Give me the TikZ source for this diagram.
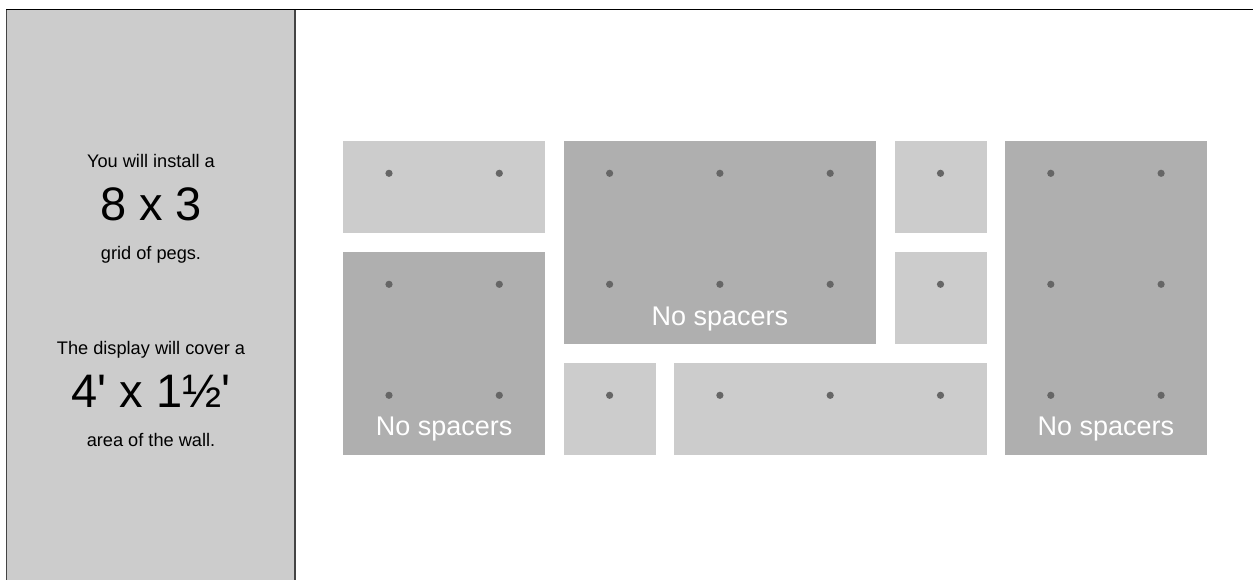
\documentclass[tikz,border=0pt]{standalone}
\usepackage{fontspec}
\newfontfamily\arialf{Liberation Sans}
\usetikzlibrary{calc}
\definecolor{lightt}{HTML}{CCCCCC}
\definecolor{darkt}{HTML}{AFAFAF}
\definecolor{pegc}{HTML}{666666}
\definecolor{panelb}{HTML}{444444}
\newcommand\ap{\char"0027\relax}
\newcommand\mytile[6]{%
  \node[#2, minimum width={(#5-#3)*1pt}, minimum height={(#6-#4)*1pt}] (#1) at ({(#3+#5)/2},{(#4+#6)/2}) {};}
\begin{document}
\begin{tikzpicture}[x=1pt,y=-1pt,
  lighttile/.style={rectangle, fill=lightt, draw=none, inner sep=0pt, outer sep=0pt},
  darktile/.style={rectangle, fill=darkt, draw=none, inner sep=0pt, outer sep=0pt},
  peg/.style={circle, fill=pegc, draw=none, minimum size=7.2pt, inner sep=0pt},
  nosp/.style={text=white, font=\arialf\fontsize{27}{30}\selectfont, anchor=base, inner sep=0pt},
  small/.style={text=black, font=\arialf\fontsize{18.2}{20}\selectfont, anchor=base, inner sep=0pt},
  big/.style={text=black, font=\arialf\fontsize{47}{50}\selectfont, anchor=base, inner sep=0pt}]
\useasboundingbox (0,0) rectangle (1253,580);
\fill[white] (0,0) rectangle (1253,580);
% left panel
\path[fill=lightt] (6.7,9.3) rectangle (295,585);
\draw[panelb, line width=1.3pt] (6.7,585) -- (6.7,9.3);
\draw[panelb, line width=1.3pt] (295,9.3) -- (295,585);
\draw[black, line width=1.3pt] (6.1,9.3) -- (1253,9.3);
% texts
\node[small] (l1) at (151,167.3) {You will install a};
\node[big] (l2) at (151,220.7) {8 x 3};
\node[small] (l3) at (151,259.7) {grid of pegs.};
\node[small] (l4) at (151,354) {The display will cover a};
\node[big] (l5) at (151,407.3) {4\ap{} x 1½\ap};
\node[small] (l6) at (151,446.7) {area of the wall.};
% tiles
\mytile{t1}{lighttile}{343}{141}{545.3}{233}
\mytile{t2}{darktile}{343}{252}{545.3}{455}
\mytile{t3}{darktile}{563.6}{141}{876.2}{344}
\mytile{t4}{lighttile}{894.5}{141}{986.5}{233}
\mytile{t5}{lighttile}{894.5}{252}{986.5}{344}
\mytile{t6}{darktile}{1004.8}{141}{1207.1}{455}
\mytile{t7}{lighttile}{563.6}{363}{655.6}{455}
\mytile{t8}{lighttile}{673.9}{363}{986.5}{455}
% pegs
\foreach \i in {0,...,7}{
  \foreach \j in {0,1,2}{
    \node[peg] (p-\i-\j) at ({389+110.3*\i},{173.3+111*\j}) {};
  }
}
% labels
\node[nosp] (n2) at ($(t2.south)+(0,-19.5)$) {No spacers};
\node[nosp] (n3) at ($(t3.south)+(0,-18.5)$) {No spacers};
\node[nosp] (n6) at ($(t6.south)+(0,-19.5)$) {No spacers};
\end{tikzpicture}
\end{document}
